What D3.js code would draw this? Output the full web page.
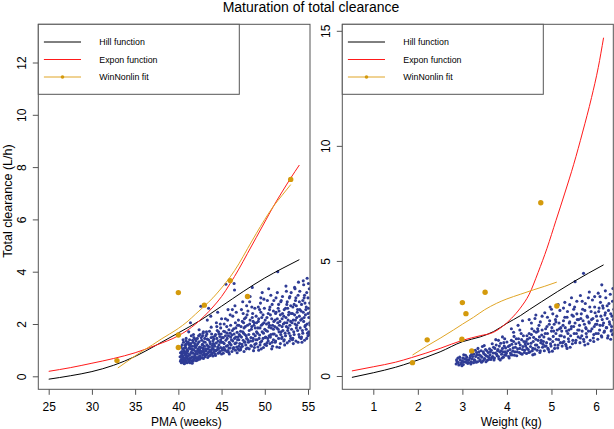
<!DOCTYPE html>
<html><head><meta charset="utf-8">
<script src="https://cdn.jsdelivr.net/npm/d3@7"></script>
<style>
body{margin:0;background:#fff;}
svg{display:block;font-family:"Liberation Sans",Arial,sans-serif;}
</style></head>
<body><svg id="c" width="614" height="429"></svg>
<script>
// ---------- DATA ----------
const title = "Maturation of total clearance";
const legendLabels = ["Hill function", "Expon function", "WinNonlin fit"];
const pmaTicks = [25, 30, 35, 40, 45, 50, 55];
const weightTicks = [1, 2, 3, 4, 5, 6];
const clTicksLeft = [0, 2, 4, 6, 8, 10, 12];
const clTicksRight = [0, 5, 10, 15];

// Left panel: PMA (weeks)
const pmaHill = [[25,-0.11],[27.5,0.02],[30,0.18],[32.5,0.42],[35,0.76],[37.5,1.2],[40,1.66],[42.5,2.13],[45,2.68],[47.5,3.24],[50,3.76],[52,4.12],[54,4.46]];
const pmaExpon = [[25,0.19],[27.5,0.33],[30,0.5],[32.5,0.68],[35,0.9],[37.5,1.2],[40,1.55],[41,1.75],[42,2.0],[43,2.3],[44,2.65],[45,3.05],[46,3.55],[47,4.1],[48,4.7],[49,5.3],[50,5.9],[51,6.5],[52,7.05],[53,7.58],[54,8.08]];
const pmaWinNonlin = [[33,0.32],[34,0.55],[35,0.78],[36,1.0],[37,1.2],[38,1.42],[39,1.62],[40,1.83],[41,2.08],[42,2.38],[43,2.68],[44,3.0],[45,3.38],[46,3.8],[47,4.3],[48,4.88],[49,5.45],[50,6.0],[51,6.5],[52,6.92],[53,7.33]];
const pmaWinNonlinObs = [[32.9,0.6],[40,1.58],[40,1.1],[40,3.2],[43,2.72],[46,3.66],[48,3.05],[53,7.53]];
const pmaObs = [
[40.3,0.62],[40.4,0.85],[40.5,0.55],[40.5,1.05],[40.6,0.72],[40.6,1.30],[40.7,0.48],[40.7,0.93],[40.8,0.66],[40.8,1.18],[40.9,0.80],[40.9,0.58],[41.0,1.02],[41.0,0.70],[40.4,0.95],[40.3,1.12],[40.6,0.60],[40.8,0.88],[40.9,1.35],[40.5,0.78],[40.7,1.08],[41.0,0.52],[40.4,0.68],[40.9,1.45],[40.2,0.75],
[41.1,0.64],[41.1,0.98],[41.2,1.22],[41.2,0.55],[41.3,0.82],[41.3,1.40],[41.4,0.70],[41.4,1.05],[41.5,0.60],[41.5,0.92],[41.5,1.55],[41.6,1.15],[41.6,0.75],[41.7,0.88],[41.7,1.30],[41.8,0.65],[41.8,1.02],[41.9,0.80],[41.9,1.25],[42.0,0.95],[42.0,0.70],[41.2,1.70],[41.4,2.05],[41.6,0.50],[41.8,1.48],[42.0,1.10],[41.3,0.62],[41.7,0.58],
[42.1,0.72],[42.1,1.18],[42.2,0.85],[42.2,1.45],[42.3,0.66],[42.3,1.05],[42.4,0.92],[42.4,1.32],[42.5,0.78],[42.5,1.60],[42.6,1.10],[42.6,0.70],[42.7,0.95],[42.7,1.38],[42.8,0.82],[42.8,1.22],[42.9,1.02],[42.9,0.68],[43.0,1.15],[43.0,0.88],[42.4,1.78],[42.6,2.68],[42.8,1.55],[42.2,0.62],[42.9,1.70],[42.5,1.00],
[43.1,0.75],[43.1,1.30],[43.2,0.98],[43.2,1.55],[43.3,0.85],[43.3,1.20],[43.4,1.05],[43.4,0.72],[43.5,1.40],[43.5,0.92],[43.6,1.12],[43.6,1.72],[43.7,0.80],[43.7,1.25],[43.8,1.00],[43.8,1.48],[43.9,0.88],[43.9,1.18],[44.0,1.35],[44.0,0.78],[43.5,2.60],[43.3,1.62],[43.8,1.88],[44.0,1.05],
[44.1,0.92],[44.1,1.42],[44.2,1.15],[44.3,0.80],[44.3,1.60],[44.4,1.28],[44.5,1.02],[44.5,1.75],[44.6,0.88],[44.6,1.35],[44.7,1.20],[44.8,0.95],[44.8,1.52],[44.9,1.10],[44.9,1.85],[45.0,1.30],[45.0,0.85],[44.4,2.05],[44.7,1.62],[44.2,1.00],[44.9,1.40],[45.0,2.20],
[45.1,1.05],[45.2,1.48],[45.2,0.88],[45.3,1.25],[45.4,1.70],[45.4,1.02],[45.5,1.38],[45.6,0.95],[45.6,1.90],[45.7,1.18],[45.8,1.55],[45.8,0.92],[45.9,1.30],[46.0,1.65],[46.0,1.08],[45.5,3.52],[45.7,2.15],[45.3,2.00],[45.9,0.85],[46.0,2.35],
[46.1,1.20],[46.2,1.58],[46.2,0.95],[46.3,1.35],[46.4,1.82],[46.4,1.10],[46.5,1.45],[46.6,2.05],[46.6,1.00],[46.7,1.28],[46.8,1.68],[46.8,0.90],[46.9,1.50],[47.0,1.15],[47.0,1.95],[46.3,2.30],[46.7,2.45],[46.5,3.30],[46.9,1.05],[47.0,1.40],
[47.1,1.25],[47.2,1.72],[47.2,1.02],[47.3,1.50],[47.4,2.10],[47.4,1.15],[47.5,1.38],[47.6,1.85],[47.6,0.95],[47.7,1.60],[47.8,2.25],[47.8,1.20],[47.9,1.45],[48.0,1.95],[48.0,1.08],[47.3,2.55],[47.7,1.32],[47.5,2.40],[47.9,2.70],
[48.1,1.30],[48.2,1.75],[48.2,1.05],[48.3,2.15],[48.4,1.48],[48.4,1.18],[48.5,1.90],[48.6,1.35],[48.6,2.40],[48.7,1.62],[48.8,1.10],[48.8,2.05],[48.9,1.55],[49.0,1.25],[49.0,2.30],[48.5,2.65],[48.3,3.05],[48.9,1.85],[48.7,0.98],
[49.1,1.40],[49.2,1.85],[49.2,1.12],[49.3,2.20],[49.4,1.58],[49.4,2.55],[49.5,1.30],[49.6,1.95],[49.6,1.05],[49.7,1.70],[49.8,2.35],[49.8,1.45],[49.9,2.05],[50.0,1.22],[50.0,1.80],[49.5,2.80],[49.3,1.00],[49.9,2.95],[49.7,3.20],
[50.1,1.50],[50.2,2.00],[50.2,1.18],[50.3,1.72],[50.4,2.40],[50.4,1.35],[50.5,1.88],[50.6,2.65],[50.6,1.25],[50.7,1.60],[50.8,2.20],[50.8,1.05],[50.9,1.95],[51.0,2.50],[51.0,1.40],[50.3,2.90],[50.7,3.10],[50.9,1.15],[50.5,1.55],[51.0,1.80],
[51.1,1.62],[51.2,2.15],[51.2,1.30],[51.3,2.45],[51.4,1.85],[51.4,1.12],[51.5,2.05],[51.6,2.75],[51.6,1.45],[51.7,1.95],[51.8,2.35],[51.8,1.25],[51.9,1.70],[52.0,2.20],[52.0,1.50],[51.5,4.00],[51.3,3.00],[51.9,2.90],[51.7,1.10],[52.0,1.90],
[52.1,1.75],[52.2,2.30],[52.2,1.35],[52.3,2.05],[52.4,2.60],[52.4,1.55],[52.5,1.90],[52.6,2.85],[52.6,1.28],[52.7,2.15],[52.8,1.65],[52.8,2.45],[52.9,1.95],[53.0,2.70],[53.0,1.45],[52.5,3.25],[52.3,1.20],[52.9,3.05],[52.7,1.85],[53.0,2.10],
[53.1,1.80],[53.2,2.40],[53.2,1.40],[53.3,2.15],[53.4,2.75],[53.4,1.60],[53.5,2.00],[53.6,3.00],[53.6,1.35],[53.7,2.25],[53.8,1.75],[53.8,2.55],[53.9,2.05],[54.0,2.85],[54.0,1.50],[53.5,3.35],[53.3,1.25],[53.9,3.60],[53.7,1.95],[54.0,2.30],
[54.1,1.85],[54.2,2.50],[54.2,1.45],[54.3,2.20],[54.4,2.90],[54.4,1.65],[54.5,2.10],[54.6,3.10],[54.6,1.38],[54.7,2.35],[54.8,1.80],[54.8,2.65],[54.9,2.00],[55.0,3.00],[55.0,1.55],[54.5,3.50],[54.3,1.30],[54.9,3.75],[55.1,2.25],[55.1,1.70],[55.2,2.80],[55.2,2.05],[54.7,1.95],[55.0,2.40],
[40.25,0.90],[40.35,0.52],[40.45,1.20],[40.55,0.66],[40.65,0.98],[40.75,0.56],[40.85,1.10],[40.95,0.74],[41.05,1.28],[40.35,0.78],[40.55,1.40],[40.75,0.82],[40.95,0.95],[40.45,0.60],[40.65,0.50],[40.85,0.70],[41.05,0.88],[40.25,0.58],[40.55,0.90],[40.85,1.22],
[41.15,0.78],[41.25,1.08],[41.35,0.52],[41.45,1.25],[41.55,0.72],[41.65,1.00],[41.75,0.62],[41.85,1.15],[41.95,0.85],[42.05,1.35],[41.25,0.68],[41.45,0.88],[41.65,1.38],[41.85,0.74],[42.05,0.60],[41.35,1.15],[41.55,1.05],[41.75,1.60],[41.95,1.42],[41.15,1.30],
[42.15,0.95],[42.25,1.25],[42.35,0.75],[42.45,1.12],[42.55,0.88],[42.65,1.48],[42.75,0.72],[42.85,1.08],[42.95,1.32],[43.05,0.80],[42.25,1.02],[42.45,0.65],[42.65,0.92],[42.85,1.65],[43.05,1.45],[42.35,1.55],[42.75,1.20],[42.95,0.95],
[43.15,1.05],[43.25,0.82],[43.35,1.42],[43.45,1.15],[43.55,0.78],[43.65,1.32],[43.75,0.95],[43.85,1.62],[43.95,1.08],[44.05,1.25],[43.25,1.70],[43.45,0.90],[43.65,1.00],[43.85,0.85],[44.05,1.50],[43.35,2.15],[43.75,2.30],
[44.15,1.22],[44.25,1.55],[44.35,0.98],[44.45,1.45],[44.55,1.12],[44.65,1.70],[44.75,0.90],[44.85,1.30],[44.95,1.62],[45.05,1.00],[44.25,0.85],[44.45,1.90],[44.65,1.05],[44.85,2.00],[45.05,1.48],[44.55,2.45],
[45.15,1.30],[45.25,1.72],[45.35,1.00],[45.45,1.55],[45.55,1.15],[45.65,1.45],[45.75,0.98],[45.85,1.78],[45.95,1.25],[46.05,1.50],[45.25,1.10],[45.45,2.20],[45.65,1.65],[45.85,1.08],[46.05,1.95],[45.75,2.55],
[46.15,1.40],[46.25,1.75],[46.35,1.05],[46.45,1.62],[46.55,1.25],[46.65,1.85],[46.75,1.12],[46.85,1.40],[46.95,2.15],[47.05,1.60],[46.25,2.55],[46.45,3.55],[46.65,1.50],[46.85,1.95],[47.05,1.00],[46.55,2.70],
[47.15,1.55],[47.25,1.90],[47.35,1.22],[47.45,1.70],[47.55,2.05],[47.65,1.30],[47.75,1.90],[47.85,1.55],[47.95,2.35],[48.05,1.40],[47.25,1.10],[47.45,2.85],[47.65,2.20],[47.85,1.05],[48.05,2.50],[47.55,1.65],
[48.15,1.60],[48.25,2.00],[48.35,1.35],[48.45,1.80],[48.55,2.25],[48.65,1.45],[48.75,1.95],[48.85,2.60],[48.95,1.40],[49.05,1.70],[48.25,2.85],[48.45,1.15],[48.65,2.10],[48.85,1.22],[49.05,2.05],[48.55,3.40],
[49.15,1.65],[49.25,2.10],[49.35,1.45],[49.45,1.85],[49.55,2.45],[49.65,1.35],[49.75,2.00],[49.85,1.65],[49.95,2.60],[50.05,1.48],[49.25,2.65],[49.45,1.20],[49.65,2.25],[49.85,1.10],[50.05,2.15],[49.55,3.00],
[50.15,1.75],[50.25,2.25],[50.35,1.45],[50.45,2.05],[50.55,2.55],[50.65,1.50],[50.75,1.85],[50.85,2.75],[50.95,1.62],[51.05,2.10],[50.25,1.28],[50.45,3.35],[50.65,2.35],[50.85,1.30],[51.05,2.90],[50.55,1.95],
[51.15,1.90],[51.25,2.40],[51.35,1.55],[51.45,2.20],[51.55,2.60],[51.65,1.70],[51.75,2.10],[51.85,2.85],[51.95,1.45],[52.05,2.40],[51.25,1.35],[51.45,3.20],[51.65,2.50],[51.85,1.60],[52.05,3.05],[51.55,1.80],
[52.15,2.00],[52.25,2.55],[52.35,1.65],[52.45,2.25],[52.55,2.75],[52.65,1.75],[52.75,2.35],[52.85,3.00],[52.95,1.55],[53.05,2.40],[52.25,1.40],[52.45,3.45],[52.65,2.60],[52.85,1.35],[53.05,3.20],[52.55,2.05],
[53.15,2.05],[53.25,2.65],[53.35,1.70],[53.45,2.35],[53.55,2.90],[53.65,1.85],[53.75,2.45],[53.85,3.10],[53.95,1.60],[54.05,2.55],[53.25,1.45],[53.45,3.40],[53.65,2.70],[53.85,1.30],[54.05,3.25],[53.55,2.15],
[54.15,2.15],[54.25,2.75],[54.35,1.75],[54.45,2.45],[54.55,3.00],[54.65,1.90],[54.75,2.55],[54.85,3.20],[54.95,1.65],[55.05,2.60],[55.15,3.35],[55.25,1.95],[54.25,1.50],[54.45,3.65],[54.65,2.80],[54.85,1.45],[55.05,3.55],[55.25,2.45],[54.55,2.25],[55.15,1.60]
];

// Right panel: Weight (kg)
const wtHill = [[0.52,-0.06],[1.0,0.14],[1.5,0.38],[1.86,0.6],[2.5,1.05],[3.0,1.49],[3.4,1.7],[3.7,1.93],[4.0,2.29],[4.3,2.62],[4.5,2.88],[4.78,3.23],[5.5,4.1],[6.17,4.83]];
const wtExpon = [[0.52,0.22],[1.0,0.4],[1.5,0.6],[1.86,0.8],[2.5,1.2],[3.0,1.55],[3.4,1.75],[3.7,1.9],[3.9,2.15],[4.1,2.5],[4.3,2.95],[4.5,3.55],[4.7,4.5],[4.9,5.55],[5.1,6.75],[5.3,7.95],[5.5,9.2],[5.7,10.6],[5.9,12.1],[6.05,13.4],[6.17,14.7]];
const wtWinNonlin = [[1.88,0.91],[2.2,1.3],[2.5,1.64],[2.8,2.0],[3.0,2.25],[3.25,2.55],[3.5,2.88],[3.77,3.16],[4.0,3.35],[4.3,3.55],[4.59,3.74],[4.85,3.9],[5.12,4.08]];
const wtWinNonlinObs = [[1.88,0.58],[2.21,1.57],[2.99,1.6],[3.0,3.19],[3.08,2.71],[3.21,1.09],[3.51,3.64],[4.76,7.53],[5.12,3.04]];
const wtObs = [
[2.86,0.52],[2.88,0.62],[2.92,0.48],[2.95,0.70],[2.98,0.58],[3.00,0.66],[3.02,0.50],[3.05,0.75],[3.08,0.60],[3.10,0.82],[3.12,0.55],[3.15,0.70],[3.18,0.88],[3.20,0.62],[2.90,0.78],[3.03,0.92],
[3.22,0.75],[3.25,0.58],[3.26,0.95],[3.28,0.68],[3.30,0.85],[3.32,1.02],[3.34,0.62],[3.36,0.78],[3.38,0.92],[3.40,0.70],[3.42,1.10],[3.44,0.82],[3.46,0.65],[3.48,0.98],[3.50,0.76],[3.52,1.15],[3.54,0.88],[3.56,0.68],[3.58,1.02],[3.60,0.80],[3.35,1.20],[3.45,1.28],
[3.62,0.92],[3.64,0.72],[3.65,1.12],[3.68,0.85],[3.70,1.25],[3.72,0.78],[3.74,1.00],[3.76,1.35],[3.78,0.88],[3.80,1.15],[3.82,0.75],[3.84,1.05],[3.86,1.42],[3.88,0.95],[3.90,1.20],[3.92,0.82],[3.94,1.30],[3.96,1.05],[3.98,0.90],[4.00,1.48],[3.75,1.58],[3.90,1.70],[3.85,0.70],
[4.02,1.10],[4.04,0.85],[4.06,1.32],[4.08,1.00],[4.10,1.55],[4.12,0.92],[4.14,1.22],[4.16,1.72],[4.18,1.05],[4.20,1.40],[4.22,0.88],[4.24,1.18],[4.26,1.62],[4.28,1.02],[4.30,1.35],[4.32,1.85],[4.34,0.95],[4.36,1.28],[4.38,1.50],[4.40,1.12],[4.10,2.05],[4.25,2.20],[4.35,2.40],[4.05,0.78],
[4.42,1.30],[4.44,0.98],[4.46,1.60],[4.48,1.15],[4.50,1.85],[4.52,1.05],[4.54,1.42],[4.56,2.05],[4.58,1.20],[4.60,1.68],[4.62,0.95],[4.64,1.35],[4.66,1.90],[4.68,1.12],[4.70,1.55],[4.72,2.20],[4.74,1.02],[4.76,1.45],[4.78,1.78],[4.80,1.25],[4.50,2.45],[4.65,2.65],[4.75,2.35],[4.45,1.75],[4.58,0.92],[4.70,1.95],
[4.82,1.50],[4.84,1.10],[4.86,1.85],[4.88,1.30],[4.90,2.15],[4.92,1.20],[4.94,1.62],[4.96,2.40],[4.98,1.40],[5.00,1.95],[5.02,1.08],[5.04,1.72],[5.06,2.25],[5.08,1.35],[5.10,1.85],[5.12,2.60],[5.14,1.22],[5.16,1.58],[5.18,2.05],[5.20,1.45],[4.85,2.75],[5.00,2.90],[5.15,3.10],[4.95,1.05],[5.10,2.35],
[5.22,1.75],[5.24,1.30],[5.26,2.20],[5.28,1.50],[5.30,2.55],[5.32,1.38],[5.34,1.95],[5.36,2.80],[5.38,1.62],[5.40,2.30],[5.42,1.25],[5.44,2.05],[5.46,2.65],[5.48,1.55],[5.50,2.15],[5.52,3.00],[5.54,1.45],[5.56,1.85],[5.58,2.45],[5.60,1.70],[5.30,3.20],[5.45,3.40],[5.53,4.10],[5.35,1.20],[5.50,2.90],
[5.62,2.00],[5.64,1.45],[5.66,2.50],[5.68,1.75],[5.70,2.90],[5.72,1.60],[5.74,2.25],[5.76,3.15],[5.78,1.85],[5.80,2.60],[5.82,1.40],[5.84,2.35],[5.86,3.00],[5.88,1.95],[5.90,2.45],[5.92,3.30],[5.94,1.65],[5.96,2.15],[5.98,2.75],[6.00,1.85],[5.72,4.46],[5.65,3.50],[5.85,3.65],[5.95,1.50],[5.78,2.05],
[6.02,2.25],[6.04,1.60],[6.06,2.80],[6.08,2.00],[6.10,3.20],[6.12,1.75],[6.13,3.96],[6.14,2.45],[6.16,2.95],[6.18,1.90],[6.20,2.65],[6.22,3.40],[6.24,2.10],[6.26,1.65],[6.28,2.85],[6.30,2.35],[6.32,3.55],[6.34,1.95],[6.36,2.60],[6.38,3.80],[6.05,3.60],[6.15,2.20],[6.25,3.05],[6.35,2.15],[6.37,1.80],
[2.87,0.70],[2.91,0.58],[2.94,0.82],[2.97,0.52],[3.01,0.78],[3.04,0.62],[3.07,0.90],[3.11,0.68],[3.14,0.58],[3.17,0.78],[3.21,0.95],[2.99,0.45],[3.09,0.72],[3.19,0.52],
[3.23,0.85],[3.27,0.70],[3.31,0.60],[3.33,0.92],[3.37,1.05],[3.39,0.66],[3.41,0.88],[3.43,0.60],[3.47,1.05],[3.49,0.72],[3.51,0.92],[3.53,0.62],[3.55,1.10],[3.57,0.85],[3.59,0.72],[3.61,1.18],[3.29,1.12],[3.49,1.32],
[3.63,1.05],[3.66,0.80],[3.69,1.00],[3.71,0.70],[3.73,1.20],[3.77,0.95],[3.79,1.10],[3.81,0.85],[3.83,1.30],[3.87,1.10],[3.89,0.78],[3.91,1.05],[3.93,1.45],[3.95,0.92],[3.97,1.22],[3.99,1.00],[3.67,1.40],[3.81,1.55],[3.95,1.62],
[4.03,1.28],[4.07,1.15],[4.09,0.92],[4.11,1.38],[4.13,1.08],[4.15,1.50],[4.17,0.90],[4.19,1.25],[4.21,1.62],[4.23,1.05],[4.27,1.45],[4.29,1.20],[4.31,0.98],[4.33,1.58],[4.35,1.15],[4.37,1.75],[4.39,1.02],[4.41,1.40],[4.15,1.90],[4.29,2.00],
[4.43,1.50],[4.45,1.20],[4.47,1.40],[4.49,1.02],[4.51,1.65],[4.53,1.28],[4.55,1.80],[4.57,1.10],[4.59,1.50],[4.61,1.95],[4.63,1.18],[4.65,1.60],[4.67,1.35],[4.69,2.05],[4.71,1.25],[4.73,1.70],[4.75,1.10],[4.77,1.55],[4.79,2.00],[4.81,1.38],[4.55,2.30],[4.63,2.50],[4.79,2.60],
[4.83,1.70],[4.85,1.30],[4.87,2.05],[4.89,1.45],[4.91,1.85],[4.93,1.15],[4.95,2.25],[4.97,1.60],[4.99,1.30],[5.01,2.10],[5.03,1.50],[5.05,1.95],[5.07,1.20],[5.09,2.45],[5.11,1.60],[5.13,2.00],[5.15,1.35],[5.17,2.30],[5.19,1.75],[5.21,2.10],[4.91,2.55],[5.03,2.70],[5.19,2.85],[4.97,3.00],
[5.23,1.95],[5.25,1.45],[5.27,2.40],[5.29,1.70],[5.31,2.10],[5.33,1.30],[5.35,2.55],[5.37,1.85],[5.39,1.50],[5.41,2.35],[5.43,1.75],[5.45,2.15],[5.47,1.40],[5.49,2.60],[5.51,1.85],[5.53,2.30],[5.55,1.55],[5.57,2.70],[5.59,2.00],[5.61,2.45],[5.27,2.95],[5.41,3.10],[5.57,3.25],[5.39,2.00],
[5.63,2.20],[5.65,1.65],[5.67,2.70],[5.69,1.95],[5.71,2.40],[5.73,1.50],[5.75,2.85],[5.77,2.10],[5.79,1.70],[5.81,2.55],[5.83,1.95],[5.85,2.30],[5.87,1.55],[5.89,2.80],[5.91,2.05],[5.93,2.50],[5.95,1.80],[5.97,3.00],[5.99,2.25],[6.01,2.60],[5.69,3.25],[5.83,3.40],[5.97,3.45],[5.75,1.35],
[6.03,2.40],[6.05,1.85],[6.07,2.95],[6.09,2.20],[6.11,2.60],[6.13,1.70],[6.15,3.05],[6.17,2.30],[6.19,1.95],[6.21,2.75],[6.23,2.10],[6.25,2.50],[6.27,1.75],[6.29,3.15],[6.31,2.25],[6.33,2.70],[6.35,2.00],[6.37,3.25],[6.39,2.45],[6.40,2.90],[6.09,3.45],[6.21,3.70],[6.33,1.60],[6.39,1.85]
];

// ---------- STYLE ----------
const COL_OBS = "#2f3c95", COL_HILL = "#000000", COL_EXP = "#ff1a1a", COL_WNL = "#e0a526", COL_WNL_PT = "#d49a0c", COL_FRAME = "#555";

const svg = d3.select("#c");

svg.append("text").attr("x", 311).attr("y", 11.5).attr("text-anchor", "middle")
  .attr("font-size", 14).attr("fill", "#000").text(title);

function panel(cfg) {
  const {id, box, x, y, xTicks, yTicks, xTitle, xTitleX, hill, expon, wnl, wnlObs, obs} = cfg;
  const g = svg.append("g");
  g.append("clipPath").attr("id", "clip" + id).append("rect")
    .attr("x", box.x0).attr("y", box.y0).attr("width", box.x1 - box.x0).attr("height", box.y1 - box.y0);
  const plot = g.append("g").attr("clip-path", `url(#clip${id})`);

  plot.append("g").selectAll("circle").data(obs).join("circle")
    .attr("cx", d => x(d[0])).attr("cy", d => y(d[1])).attr("r", 1.55).attr("fill", COL_OBS);

  const line = d3.line().x(d => x(d[0])).y(d => y(d[1])).curve(d3.curveMonotoneX);
  plot.append("path").datum(hill).attr("d", line).attr("fill", "none").attr("stroke", COL_HILL).attr("stroke-width", 1);
  plot.append("path").datum(expon).attr("d", line).attr("fill", "none").attr("stroke", COL_EXP).attr("stroke-width", 1);
  plot.append("path").datum(wnl).attr("d", line).attr("fill", "none").attr("stroke", COL_WNL).attr("stroke-width", 1);
  plot.append("g").selectAll("circle").data(wnlObs).join("circle")
    .attr("cx", d => x(d[0])).attr("cy", d => y(d[1])).attr("r", 2.7).attr("fill", COL_WNL_PT);

  const xa = g.append("g").attr("transform", `translate(0,${box.y1})`)
    .call(d3.axisBottom(x).tickValues(xTicks).tickSize(5.5).tickPadding(3).tickFormat(d3.format("d")));
  xa.select(".domain").remove();
  xa.selectAll("line").attr("stroke", COL_FRAME);
  xa.selectAll("text").attr("font-size", 12).attr("font-family", null).attr("fill", "#000").attr("dy", null).attr("y", 21.3);

  const ya = g.append("g").attr("transform", `translate(${box.x0},0)`)
    .call(d3.axisLeft(y).tickValues(yTicks).tickSize(5.5).tickFormat(d3.format("d")));
  ya.select(".domain").remove();
  ya.selectAll("line").attr("stroke", COL_FRAME);
  ya.selectAll("text").attr("font-size", 12).attr("font-family", null).attr("fill", "#000")
    .attr("dy", null).attr("x", 0).attr("y", -12.8).attr("text-anchor", "middle").attr("transform", "rotate(-90)");

  g.append("rect").attr("x", box.x0).attr("y", box.y0).attr("width", box.x1 - box.x0).attr("height", box.y1 - box.y0)
    .attr("fill", "none").attr("stroke", COL_FRAME).attr("stroke-width", 1);

  g.append("text").attr("x", xTitleX).attr("y", 426).attr("text-anchor", "middle").attr("font-size", 12).text(xTitle);

  const lg = g.append("g").attr("transform", `translate(${box.x0},${box.y0})`);
  lg.append("rect").attr("x", 0).attr("y", 0).attr("width", 201).attr("height", 70)
    .attr("fill", "#fff").attr("stroke", COL_FRAME).attr("stroke-width", 1);
  const cols = [COL_HILL, COL_EXP, COL_WNL];
  legendLabels.forEach((lab, i) => {
    const yy = 17.7 + i * 17.5;
    lg.append("line").attr("x1", 5.6).attr("x2", 42.7).attr("y1", yy).attr("y2", yy).attr("stroke", cols[i]).attr("stroke-width", 1);
    if (i === 2) lg.append("circle").attr("cx", 24.2).attr("cy", yy).attr("r", 1.8).attr("fill", COL_WNL_PT);
    lg.append("text").attr("x", 61).attr("y", yy + 3.1).attr("font-size", 8.8).text(lab);
  });
}

const boxL = {x0: 38.3, x1: 310, y0: 24.3, y1: 389.3};
const boxR = {x0: 342.3, x1: 613.3, y0: 24.3, y1: 389.3};

panel({id: "L", box: boxL,
  x: d3.scaleLinear().domain([25, 55]).range([48.7, 308]),
  y: d3.scaleLinear().domain([0, 12]).range([376.3, 62.5]),
  xTicks: pmaTicks, yTicks: clTicksLeft, xTitle: "PMA (weeks)", xTitleX: 186.3,
  hill: pmaHill, expon: pmaExpon, wnl: pmaWinNonlin, wnlObs: pmaWinNonlinObs, obs: pmaObs});

panel({id: "R", box: boxR,
  x: d3.scaleLinear().domain([1, 6]).range([373.3, 596]),
  y: d3.scaleLinear().domain([0, 15]).range([376, 30.8]),
  xTicks: weightTicks, yTicks: clTicksRight, xTitle: "Weight (kg)", xTitleX: 511.2,
  hill: wtHill, expon: wtExpon, wnl: wtWinNonlin, wnlObs: wtWinNonlinObs, obs: wtObs});

svg.append("text").attr("transform", "translate(12,201) rotate(-90)").attr("text-anchor", "middle")
  .attr("font-size", 12.5).text("Total clearance (L/h)");
</script>
</body></html>
